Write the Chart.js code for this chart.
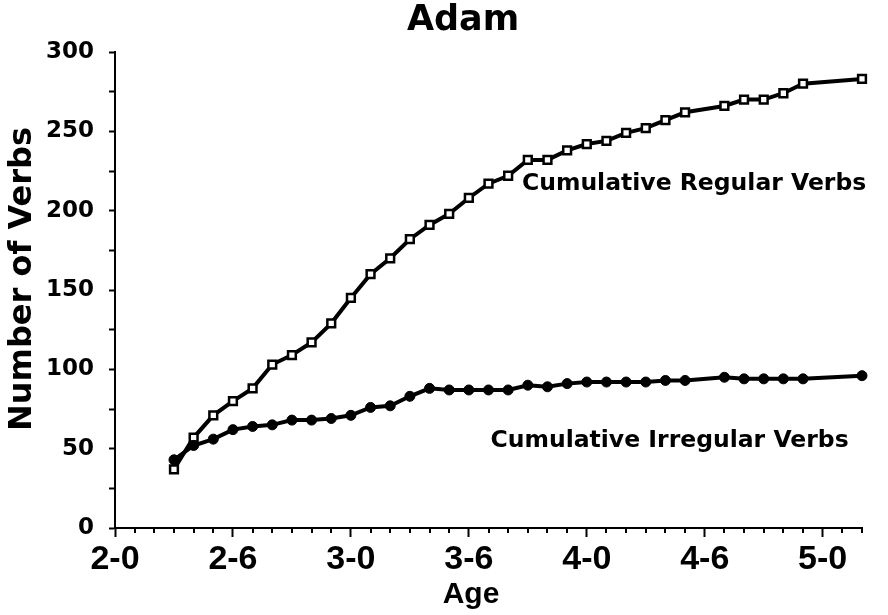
<!DOCTYPE html>
<html>
<head>
<meta charset="utf-8">
<script src="https://cdn.jsdelivr.net/npm/chart.js@4/dist/chart.umd.min.js"></script>
<style>
  html, body { margin: 0; padding: 0; background: #fff; }
  #wrap { width: 888px; height: 615px; }
</style>
</head>
<body>
<div id="wrap"><canvas id="verbChart" width="888" height="615"></canvas></div>
<script>
// age in months at each sample (2-3 .. 5-2)
const ageMonths = [27, 28, 29, 30, 31, 32, 33, 34, 35, 36, 37, 38, 39, 40, 41, 42, 43, 44,
  45, 46, 47, 48, 49, 50, 51, 52, 53, 55, 56, 57, 58, 59, 62];
const regularVerbs = [37, 57, 71, 80, 88, 103, 109, 117, 129, 145, 160, 170, 182, 191, 198, 208, 217, 222,
  232, 232, 238, 242, 244, 249, 252, 257, 262, 266, 270, 270, 274, 280, 283];
const irregularVerbs = [43, 52, 56, 62, 64, 65, 68, 68, 69, 71, 76, 77, 83, 88, 87, 87, 87, 87,
  90, 89, 91, 92, 92, 92, 92, 93, 93, 95, 94, 94, 94, 94, 96];

const ageRange = [24, 62];
const verbRange = [0, 300];

const seriesLabels = [
  { text: "Cumulative Regular Verbs", age: 44.7, verbs: 217 },
  { text: "Cumulative Irregular Verbs", age: 43.1, verbs: 55 },
];

function toPoints(values) {
  return ageMonths.map((m, i) => ({ x: m, y: values[i] }));
}

// age label like 2-6 (years-months)
function ageLabel(v) {
  if (v % 6 !== 0) return "";
  return Math.floor(v / 12) + "-" + (v % 12);
}

const dejavu = "'DejaVu Sans', sans-serif";
const liberation = "'Liberation Sans', Arial, sans-serif";

// title, axis titles, curve labels and the short monthly ticks
const annotate = {
  id: "annotate",
  afterDraw(chart) {
    const { ctx, chartArea: a } = chart;
    const x = chart.scales.x;
    const y = chart.scales.y;
    ctx.save();
    ctx.strokeStyle = "#000";
    ctx.lineWidth = 2;
    for (let m = ageRange[0] + 1; m <= ageRange[1]; m++) {
      if (m % 6 === 0) continue;
      const px = Math.round(x.getPixelForValue(m));
      ctx.beginPath();
      ctx.moveTo(px, a.bottom);
      ctx.lineTo(px, a.bottom + 5);
      ctx.stroke();
    }

    ctx.fillStyle = "#000";
    ctx.textBaseline = "middle";

    ctx.textAlign = "center";
    ctx.font = "bold 35px " + dejavu;
    ctx.fillText("Adam", 463, 21);

    ctx.font = "bold 30px " + liberation;
    ctx.fillText("Age", 471, 595);

    ctx.save();
    ctx.translate(23, 279);
    ctx.rotate(-Math.PI / 2);
    ctx.font = "bold 32px " + dejavu;
    ctx.fillText("Number of Verbs", 0, 0);
    ctx.restore();

    ctx.textAlign = "left";
    ctx.font = "bold 23.5px " + dejavu;
    seriesLabels.forEach((l) => {
      ctx.fillText(l.text, x.getPixelForValue(l.age), y.getPixelForValue(l.verbs));
    });
    ctx.restore();
  },
};

new Chart(document.getElementById("verbChart"), {
  type: "line",
  data: {
    datasets: [
      {
        label: "Cumulative Irregular Verbs",
        data: toPoints(irregularVerbs),
        borderColor: "#000",
        borderWidth: 4,
        pointStyle: "circle",
        pointRadius: 5,
        pointBackgroundColor: "#000",
        pointBorderColor: "#000",
        pointBorderWidth: 1,
        tension: 0,
        clip: false,
      },
      {
        label: "Cumulative Regular Verbs",
        data: toPoints(regularVerbs),
        borderColor: "#000",
        borderWidth: 4,
        pointStyle: "rect",
        pointRadius: 5.5,
        pointBackgroundColor: "#fff",
        pointBorderColor: "#000",
        pointBorderWidth: 2.5,
        tension: 0,
        clip: false,
      },
    ],
  },
  options: {
    responsive: false,
    animation: false,
    layout: { padding: { top: 52, right: 26, left: 0, bottom: 0 } },
    plugins: {
      legend: { display: false },
      title: { display: false },
      tooltip: { enabled: false },
    },
    scales: {
      x: {
        type: "linear",
        min: ageRange[0],
        max: ageRange[1],
        afterFit: (s) => { s.height = 87; },
        afterBuildTicks: (s) => {
          s.ticks = [];
          for (let v = ageRange[0]; v <= ageRange[1]; v += 6) s.ticks.push({ value: v });
        },
        ticks: {
          callback: ageLabel,
          color: "#000",
          padding: 2,
          maxRotation: 0,
          autoSkip: false,
          font: { family: liberation, size: 34, weight: "bold" },
        },
        grid: { drawOnChartArea: false, tickLength: 9, tickWidth: 2, tickColor: "#000" },
        border: { color: "#000", width: 2 },
      },
      y: {
        min: verbRange[0],
        max: verbRange[1],
        afterFit: (s) => { s.width = 115; },
        ticks: {
          stepSize: 25,
          callback: (v) => (v % 50 === 0 ? v : ""),
          color: "#000",
          padding: 15,
          font: { family: dejavu, size: 23, weight: "bold" },
        },
        grid: { drawOnChartArea: false, tickLength: 6, tickWidth: 2, tickColor: "#000" },
        border: { color: "#000", width: 2 },
      },
    },
  },
  plugins: [annotate],
});
</script>
</body>
</html>
